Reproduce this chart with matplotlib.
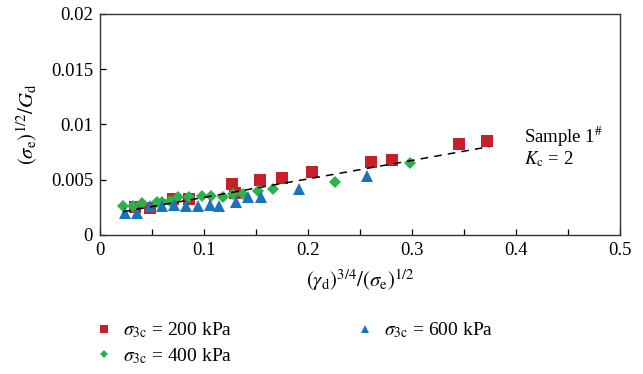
import numpy as np
import matplotlib.pyplot as plt

plt.rcParams['font.family'] = ['Liberation Serif', 'DejaVu Serif']
plt.rcParams['mathtext.fontset'] = 'stix'

# === Data: normalised shear modulus vs strain term ===
x_200 = [0.034, 0.048, 0.070, 0.086, 0.127, 0.130, 0.154, 0.175, 0.204, 0.261, 0.281, 0.345, 0.372]
y_200 = [0.0025, 0.0024, 0.0033, 0.0033, 0.0046, 0.0038, 0.0050, 0.0052, 0.0057, 0.0066, 0.0068, 0.0082, 0.0085]

x_400 = [0.022, 0.032, 0.040, 0.055, 0.060, 0.067, 0.075, 0.086, 0.098, 0.107,
         0.118, 0.128, 0.138, 0.152, 0.166, 0.226, 0.298]
y_400 = [0.0026, 0.0026, 0.0029, 0.0030, 0.0030, 0.0031, 0.0034, 0.0034, 0.0035, 0.0035,
         0.0034, 0.0037, 0.0037, 0.0040, 0.0042, 0.0048, 0.0065]

x_600 = [0.024, 0.036, 0.048, 0.060, 0.071, 0.083, 0.094, 0.106, 0.114,
         0.131, 0.142, 0.155, 0.191, 0.257]
y_600 = [0.0020, 0.0020, 0.0026, 0.0026, 0.0027, 0.0026, 0.0026, 0.0027, 0.0026,
         0.0030, 0.0034, 0.0034, 0.0042, 0.0053]

# fitted trend line (end points)
fit_x = [0.022, 0.375]
fit_y = [0.0021, 0.0080]

red = '#C8202A'
green = '#2EB04C'
blue = '#1A74BB'

fig = plt.figure(figsize=(6.43, 3.74), dpi=100)
ax = fig.add_axes([0.1555, 0.3717, 0.8085, 0.5909])

ax.plot(fit_x, fit_y, color='black', linestyle=(0, (5, 4)), linewidth=1.1, zorder=3)
ax.plot(x_200, y_200, 's', color=red, markersize=8.5, markeredgewidth=0,
        label=r'$\sigma_{3\mathrm{c}}$ = 200 kPa', zorder=2)
ax.plot(x_400, y_400, 'D', color=green, markersize=6.5, markeredgewidth=0,
        label=r'$\sigma_{3\mathrm{c}}$ = 400 kPa', zorder=2)
ax.plot(x_600, y_600, '^', color=blue, markersize=9, markeredgewidth=0,
        label=r'$\sigma_{3\mathrm{c}}$ = 600 kPa', zorder=2)

ax.set_xlim(0, 0.5)
ax.set_ylim(0, 0.02)
ax.set_xticks([0, 0.1, 0.2, 0.3, 0.4, 0.5])
ax.set_xticklabels(['0', '0.1', '0.2', '0.3', '0.4', '0.5'])
ax.set_xticks(np.arange(0.05, 0.5, 0.1), minor=True)
ax.set_yticks([0, 0.005, 0.01, 0.015, 0.02])
ax.set_yticklabels(['0', '0.005', '0.01', '0.015', '0.02'])
ax.tick_params(which='both', direction='in', length=4, width=0.9,
               labelsize=13.5, pad=5)
ax.tick_params(which='minor', length=4)
for s in ax.spines.values():
    s.set_linewidth(1.0)
    s.set_color('#333333')

ax.set_xlabel(r'$(\gamma_{\mathrm{d}})^{3/4}/(\sigma_{\mathrm{e}})^{1/2}$', fontsize=15, labelpad=6)
ax.set_ylabel(r'$(\sigma_{\mathrm{e}})^{1/2}/G_{\mathrm{d}}$', fontsize=15, labelpad=8)

ax.text(0.408, 0.0089, r'Sample 1$^{\#}$', fontsize=13.5, va='center', ha='left')
ax.text(0.408, 0.0069, r'$K_{\mathrm{c}}$ = 2', fontsize=13.5, va='center', ha='left')

fig.legend(loc='upper left', bbox_to_anchor=(0.116, 0.19), ncol=2,
           frameon=False, fontsize=14, markerscale=0.7, handletextpad=0.4,
           columnspacing=6.2, labelspacing=0.3, handlelength=1.2,
           bbox_transform=fig.transFigure)

fig.savefig('out.png', dpi=100)
